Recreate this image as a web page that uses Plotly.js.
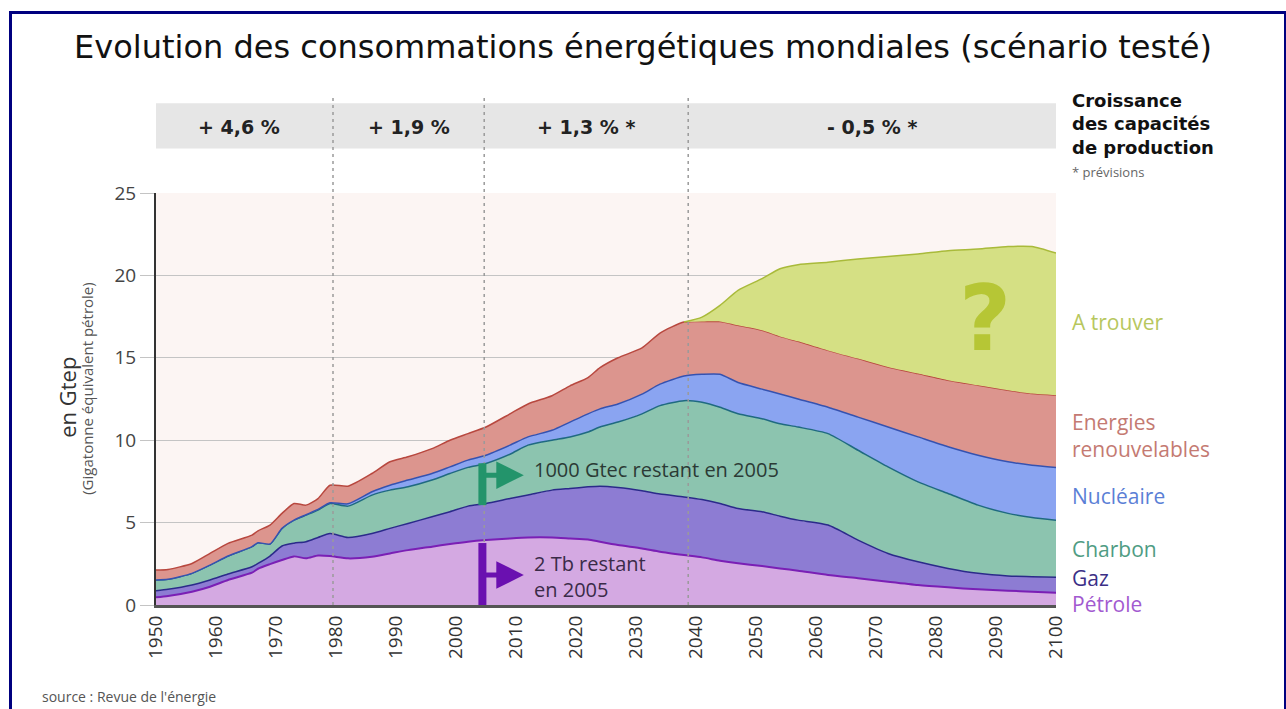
<!DOCTYPE html>
<html>
<head>
<meta charset="utf-8">
<script src="https://cdn.plot.ly/plotly-3.0.1.min.js"></script>
<style>
  html, body { margin: 0; padding: 0; background: #ffffff; }
  #frame { position: absolute; left: 9px; top: 11px; width: 1272px; height: 710px;
           border-top: 3px solid #00007f; border-left: 3px solid #00007f; border-right: 3px solid #00007f; }
  #chart { position: absolute; left: 0; top: 0; width: 1286px; height: 709px; }
</style>
</head>
<body>
<div id="frame"></div>
<div id="chart"></div>
<script>
// ---- Data (upper boundary of each stacked band, in Gtep) ----
const years = [1950,1952,1956,1959,1962,1966,1967,1969,1971,1973,1975,1977,1979,1982,1986,1989,1992,1996,1999,2002,2005,2009,2012,2016,2019,2022,2024,2027,2031,2034,2038,2041,2044,2047,2051,2054,2057,2062,2067,2072,2077,2082,2087,2092,2096,2100];

const petroleTop = [0.47,0.55,0.81,1.11,1.52,1.96,2.2,2.48,2.73,2.95,2.83,3.0,2.97,2.83,2.93,3.13,3.33,3.54,3.70,3.84,3.94,4.04,4.10,4.10,4.04,3.98,3.84,3.64,3.43,3.23,3.03,2.89,2.69,2.53,2.36,2.22,2.08,1.82,1.62,1.41,1.21,1.07,0.95,0.87,0.81,0.75];
const gazTop = [0.87,0.95,1.21,1.52,1.88,2.32,2.52,2.97,3.58,3.75,3.84,4.10,4.34,4.10,4.34,4.65,4.95,5.35,5.66,6.0,6.16,6.46,6.67,6.97,7.07,7.17,7.21,7.13,6.93,6.73,6.56,6.40,6.16,5.86,5.66,5.39,5.15,4.85,3.94,3.13,2.62,2.22,1.92,1.76,1.72,1.68];
const charbonTop = [1.52,1.56,1.92,2.42,2.97,3.54,3.78,3.70,4.65,5.15,5.45,5.76,6.16,6.0,6.67,6.97,7.17,7.58,7.98,8.35,8.59,9.15,9.70,10.0,10.2,10.5,10.8,11.1,11.6,12.1,12.4,12.3,12.0,11.6,11.3,11.0,10.8,10.4,9.39,8.38,7.47,6.77,6.06,5.56,5.31,5.15];
const nucleaireTop = [1.52,1.56,1.92,2.42,2.97,3.54,3.78,3.70,4.65,5.15,5.48,5.80,6.2,6.14,6.87,7.27,7.58,7.98,8.38,8.79,9.09,9.70,10.2,10.6,11.1,11.6,11.9,12.2,12.8,13.4,13.9,14.0,14.0,13.5,13.1,12.8,12.5,12.0,11.4,10.8,10.2,9.6,9.09,8.69,8.48,8.34];
const renouvelablesTop = [2.12,2.16,2.52,3.13,3.74,4.24,4.5,4.85,5.56,6.16,6.06,6.46,7.27,7.21,7.98,8.69,8.99,9.49,10.0,10.4,10.8,11.6,12.2,12.7,13.3,13.8,14.4,15.0,15.6,16.5,17.17,17.2,17.2,16.97,16.67,16.3,16.0,15.45,14.95,14.44,14.04,13.64,13.33,13.03,12.83,12.73];

const aTrouverYears = [2038,2041,2044,2047,2051,2054,2057,2062,2067,2072,2077,2082,2087,2092,2096,2100];
const aTrouverTop = [17.17,17.47,18.18,19.09,19.8,20.4,20.65,20.8,21.0,21.15,21.3,21.5,21.6,21.75,21.75,21.35];

const xTicks = [1950,1960,1970,1980,1990,2000,2010,2020,2030,2040,2050,2060,2070,2080,2090,2100];
const yTicks = [0,5,10,15,20,25];

const periodBounds = [1950,1979.5,2004.7,2038.7,2100];
const periodLabels = ["+ 4,6 %","+ 1,9 %","+ 1,3 % *","- 0,5 % *"];

const seriesNames = ["Pétrole","Gaz","Charbon","Nucléaire","Energies<br>renouvelables","A trouver"];
const seriesLabelY = [0.06,1.64,3.4,6.6,10.3,17.16];

// ---- Styles ----
const fillColors = ["#d4a9e2","#8d7cd3","#8cc4af","#8aa4f1","#dc958e","#d5e084"];
const lineColors = ["#7a1fb5","#2b2a8a","#1f6a80","#3552b0","#b8483f","#a9ba3a"];
const labelColors = ["#a25ad0","#3b2f86","#4f9c83","#5b7fd6","#c47a72","#b7c75e"];

const tops = [petroleTop,gazTop,charbonTop,nucleaireTop,renouvelablesTop];
const traces = [];
tops.forEach((t,i)=>{
  traces.push({
    type:"scatter", mode:"lines", x:years, y:t,
    fill: i===0 ? "tozeroy" : "tonexty",
    fillcolor: fillColors[i],
    line:{color:lineColors[i], width: i===0 ? 2 : 1.5, shape:"spline", smoothing:0.6},
    hoverinfo:"skip", showlegend:false
  });
});
// base for the "A trouver" band = renewables upper boundary over the same years
const i0 = years.indexOf(aTrouverYears[0]);
traces.push({
  type:"scatter", mode:"lines", x:years.slice(i0), y:renouvelablesTop.slice(i0),
  line:{width:0, shape:"spline", smoothing:0.6}, hoverinfo:"skip", showlegend:false
});
traces.push({
  type:"scatter", mode:"lines", x:aTrouverYears, y:aTrouverTop,
  fill:"tonexty", fillcolor:fillColors[5],
  line:{color:lineColors[5], width:1.5, shape:"spline", smoothing:0.6},
  hoverinfo:"skip", showlegend:false
});

// ---- Shapes ----
const shapes = [];
shapes.push({type:"rect", xref:"x", yref:"paper", x0:1950, x1:2100, y0:1.108, y1:1.218,
             fillcolor:"#e6e6e6", line:{width:0}, layer:"below"});
periodBounds.slice(1,4).forEach(b=>{
  shapes.push({type:"line", xref:"x", yref:"paper", x0:b, x1:b, y0:0, y1:1.235,
               line:{color:"#9a9a9a", width:1.5, dash:"3px,4px"}, layer:"above"});
});
// reserve bars (year 2005)
shapes.push({type:"line", xref:"x", yref:"y", x0:2004.4, x1:2004.4, y0:6.06, y1:8.6,
             line:{color:"#23946b", width:8}, layer:"above"});
shapes.push({type:"line", xref:"x", yref:"y", x0:2004.4, x1:2004.4, y0:0, y1:3.76,
             line:{color:"#6a10b0", width:8}, layer:"above"});

// ---- Annotations ----
const ann = [];
const mainFont = "Open Sans, Lato, DejaVu Sans, sans-serif";
const boldFont = "DejaVu Sans, sans-serif";

for (let i=0;i<4;i++){
  ann.push({xref:"x", yref:"paper", x:(periodBounds[i]+periodBounds[i+1])/2 + (i===0?-1:0), y:1.161,
            text:"<b>"+periodLabels[i]+"</b>", showarrow:false,
            font:{family:boldFont, size:19, color:"#222"}, xanchor:"center", yanchor:"middle"});
}
ann.push({xref:"paper", yref:"paper", x:1.0156, y:1.168,
          text:"<b>Croissance<br>des capacités<br>de production</b>", showarrow:false, align:"left",
          xanchor:"left", yanchor:"middle", font:{family:boldFont, size:18, color:"#111"}});
ann.push({xref:"paper", yref:"paper", x:1.0156, y:1.052, text:"* prévisions", showarrow:false,
          xanchor:"left", yanchor:"middle", font:{family:mainFont, size:13, color:"#666"}});

seriesNames.forEach((n,i)=>{
  ann.push({xref:"paper", yref:"y", x:1.0156, y:seriesLabelY[i], text:n, showarrow:false,
            xanchor:"left", yanchor:"middle", align:"left",
            font:{family:mainFont, size:21, color:labelColors[i]}});
});

// y-axis titles
ann.push({xref:"paper", yref:"paper", x:-0.099, y:0.505, text:"en Gtep", textangle:-90, showarrow:false,
          xanchor:"center", yanchor:"middle", font:{family:mainFont, size:22, color:"#333"}});
ann.push({xref:"paper", yref:"paper", x:-0.077, y:0.524, text:"(Gigatonne équivalent pétrole)", textangle:-90,
          showarrow:false, xanchor:"center", yanchor:"middle", font:{family:mainFont, size:15, color:"#555"}});

// question mark
ann.push({xref:"x", yref:"y", x:2088.2, y:17.4, text:"<b>?</b>", showarrow:false,
          font:{family:"DejaVu Sans, sans-serif", size:90, color:"#b6c635"}});

// arrows
ann.push({xref:"x", yref:"y", x:2011.3, y:7.88, axref:"x", ayref:"y", ax:2004.4, ay:7.88, text:"",
          showarrow:true, arrowhead:2, arrowsize:1.1, arrowwidth:5, arrowcolor:"#23946b"});
ann.push({xref:"x", yref:"y", x:2011.3, y:1.82, axref:"x", ayref:"y", ax:2004.4, ay:1.82, text:"",
          showarrow:true, arrowhead:2, arrowsize:1.1, arrowwidth:5, arrowcolor:"#6a10b0"});
ann.push({xref:"x", yref:"y", x:2012.7, y:8.25, text:"1000 Gtec restant en 2005", showarrow:false,
          xanchor:"left", yanchor:"middle", font:{family:mainFont, size:20, color:"#2b3a35"}});
ann.push({xref:"x", yref:"y", x:2012.7, y:1.76, text:"2 Tb restant<br>en 2005", showarrow:false, align:"left",
          xanchor:"left", yanchor:"middle", font:{family:mainFont, size:20, color:"#3a2b48"}});

// source
ann.push({xref:"paper", yref:"paper", x:-0.129, y:-0.223, text:"source : Revue de l'énergie", showarrow:false,
          xanchor:"left", yanchor:"middle", font:{family:mainFont, size:14, color:"#555"}});

const layout = {
  width:1286, height:709,
  margin:{l:156, r:230, t:193, b:104, pad:0},
  paper_bgcolor:"rgba(0,0,0,0)",
  plot_bgcolor:"#fcf5f3",
  title:{text:"Evolution des consommations énergétiques mondiales (scénario testé)",
         x:0.5, xref:"container", xanchor:"center", y:0.934, yref:"container", yanchor:"middle",
         font:{family:"DejaVu Sans, sans-serif", size:32, color:"#111"}},
  xaxis:{range:[1950,2100], tickmode:"array", tickvals:xTicks, ticktext:xTicks.map(String),
         tickangle:-90, showgrid:false, zeroline:false, showline:true, linecolor:"#555", linewidth:3,
         ticks:"", tickfont:{family:mainFont, size:19, color:"#333"}, fixedrange:true},
  yaxis:{range:[0,25], tickmode:"array", tickvals:yTicks, ticktext:yTicks.map(String),
         showgrid:true, gridcolor:"#c4c4c4", gridwidth:1, zeroline:false,
         showline:true, linecolor:"#333", linewidth:2, ticks:"outside", ticklen:14, tickcolor:"#c4c4c4",
         tickfont:{family:mainFont, size:19, color:"#444"}, layer:"above traces", fixedrange:true},
  shapes:shapes,
  annotations:ann,
  showlegend:false
};

Plotly.newPlot("chart", traces, layout, {displayModeBar:false, staticPlot:true});
</script>
</body>
</html>
